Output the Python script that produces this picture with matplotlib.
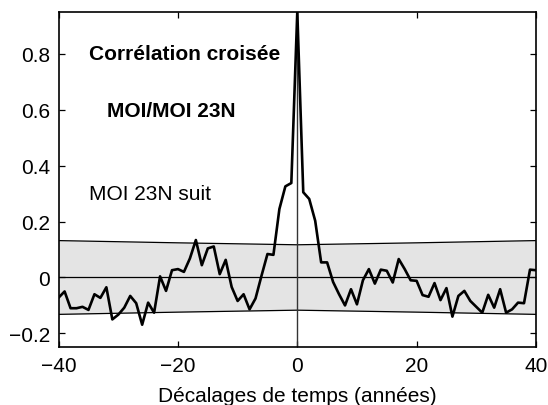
import numpy as np
import matplotlib.pyplot as plt

plt.rcParams['font.family'] = ['Liberation Sans', 'DejaVu Sans']

# lags in years and cross-correlation values
lags = np.arange(-40, 41)
corr = [-0.072, -0.050, -0.110, -0.110, -0.105, -0.116, -0.060, -0.073, -0.035, -0.150,
        -0.133, -0.108, -0.066, -0.092, -0.169, -0.090, -0.126, 0.004, -0.048, 0.026,
        0.030, 0.020, 0.068, 0.134, 0.044, 0.104, 0.111, 0.012, 0.063, -0.034,
        -0.084, -0.060, -0.114, -0.075, 0.006, 0.084, 0.081, 0.245, 0.326, 0.338,
        0.950,
        0.305, 0.281, 0.203, 0.054, 0.054, -0.016, -0.060, -0.100, -0.042, -0.096,
        -0.010, 0.030, -0.022, 0.028, 0.024, -0.018, 0.066, 0.030, -0.010, -0.012,
        -0.063, -0.069, -0.020, -0.081, -0.038, -0.140, -0.066, -0.048, -0.084, -0.105,
        -0.126, -0.062, -0.108, -0.042, -0.126, -0.114, -0.090, -0.092, 0.028, 0.026]

# significance band half-width
band_lags = [-40, -20, 0, 20, 40]
band_half = [0.132, 0.124, 0.117, 0.124, 0.132]

fig = plt.figure(figsize=(5.48, 4.06), dpi=100)
ax = fig.add_axes([0.107, 0.142, 0.871, 0.826])

bx = np.array(band_lags)
bh = np.array(band_half)
ax.fill_between(bx, -bh, bh, color='#e4e4e4', lw=0, zorder=1)
ax.plot(bx, bh, color='black', lw=0.9, zorder=2)
ax.plot(bx, -bh, color='black', lw=0.9, zorder=2)
ax.axhline(0, color='black', lw=0.9, zorder=2)
ax.axvline(0, color='#333333', lw=1.0, zorder=2)

ax.plot(lags, corr, color='black', lw=1.9, zorder=3)

ax.set_xlim(-40, 40)
ax.set_ylim(-0.25, 0.95)
ax.set_xticks([-40, -20, 0, 20, 40])
ax.set_yticks([-0.2, 0, 0.2, 0.4, 0.6, 0.8])
ax.set_yticklabels(['\u22120.2', '0', '0.2', '0.4', '0.6', '0.8'])
ax.set_xticklabels(['\u221240', '\u221220', '0', '20', '40'])
ax.tick_params(direction='in', top=True, right=True, length=4, width=0.9,
               labelsize=15, pad=6)
for s in ax.spines.values():
    s.set_linewidth(1.2)

ax.set_xlabel('Décalages de temps (années)', fontsize=15, labelpad=8)

ax.text(-34.9, 0.80, 'Corrélation croisée', fontsize=15, fontweight='bold', va='center')
ax.text(-31.9, 0.597, 'MOI/MOI 23N', fontsize=15, fontweight='bold', va='center')
ax.text(-34.9, 0.299, 'MOI 23N suit', fontsize=15, va='center')

fig.savefig('out.png', dpi=100)
